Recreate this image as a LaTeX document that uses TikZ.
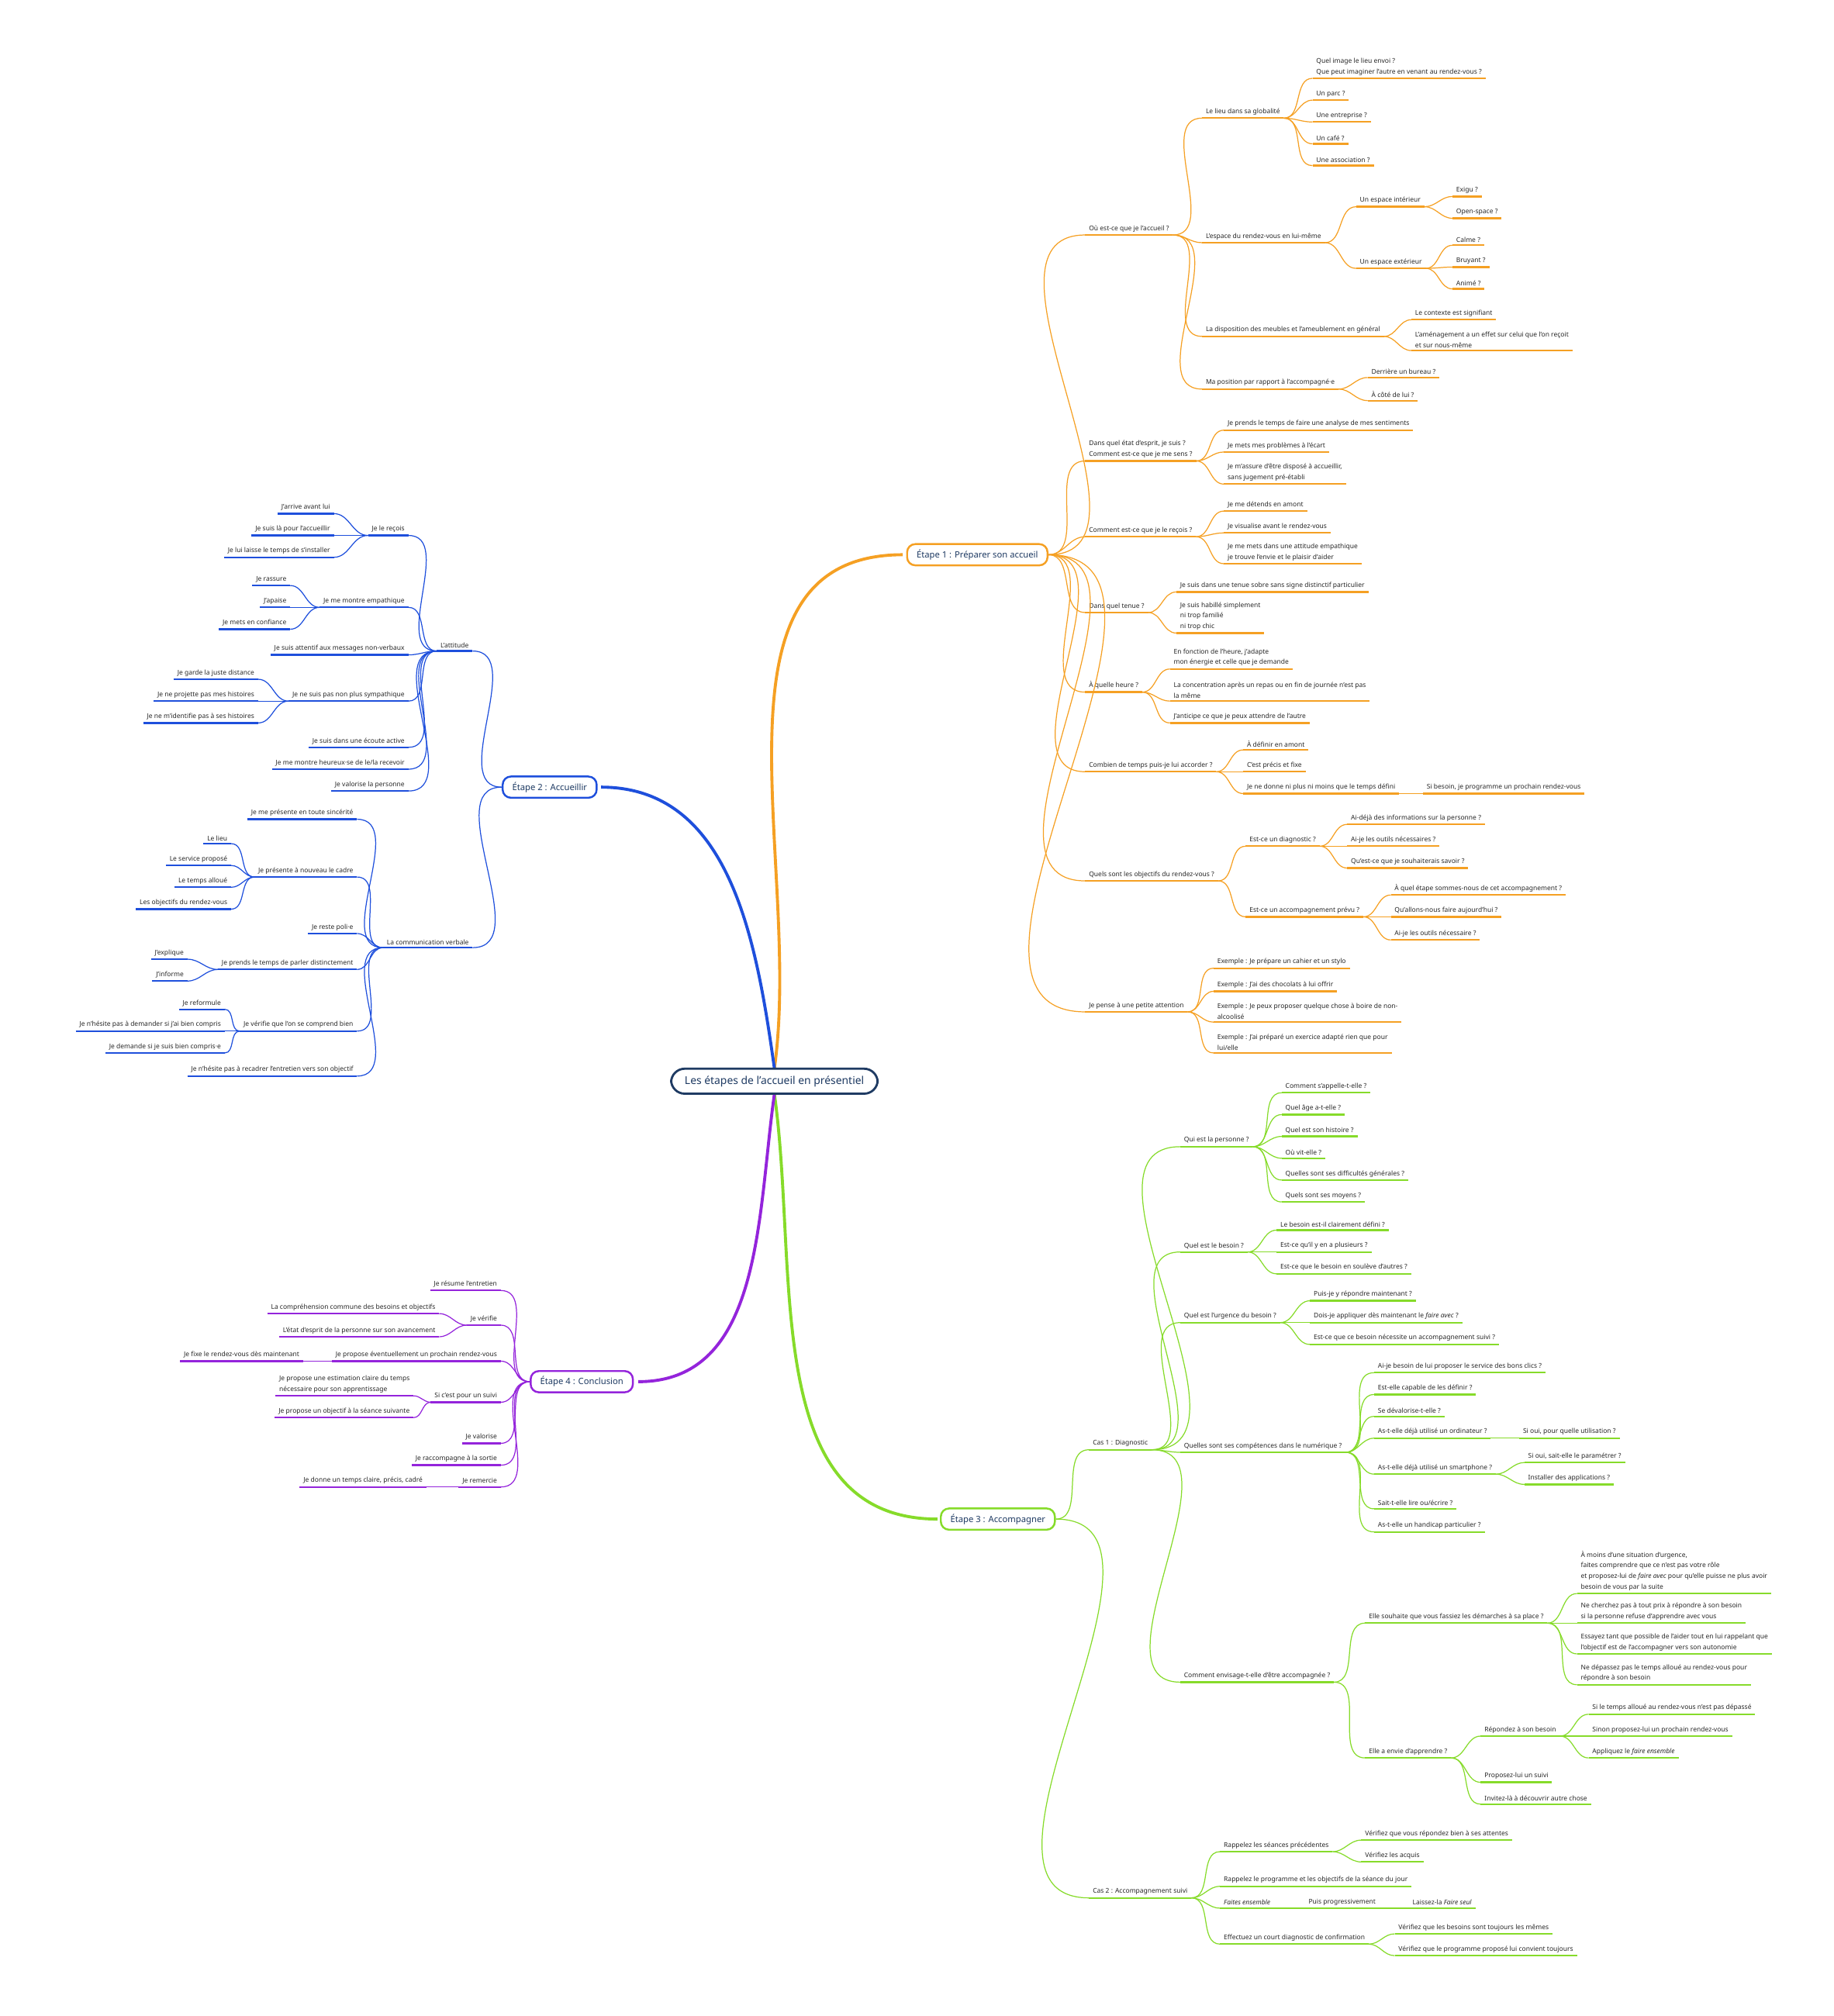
\documentclass[tikz,border=0pt]{standalone}
\usepackage{fontspec}
\setmainfont{Noto Sans}
\definecolor{ink}{HTML}{262626}
\definecolor{navy}{HTML}{1F3B63}
\definecolor{corange}{HTML}{F5A023}
\definecolor{cblue}{HTML}{1E4FDC}
\definecolor{cgreen}{HTML}{86DB2A}
\definecolor{cpurple}{HTML}{9424DB}
\tikzset{
  every node/.style={font=\fontsize{2.42}{3.9}\selectfont, text=ink},
  item/.style={inner xsep=1.2pt, inner ysep=0.9pt, align=left,
    append after command={(\tikzlastnode.south west) edge[line width=0.65pt] (\tikzlastnode.south east)}},
  ritem/.style={item, anchor=south west},
  litem/.style={item, anchor=south east},
  twig/.style={line width=0.35pt},
  branch/.style={line width=1.1pt},
  stage/.style={draw, rounded corners=3pt, line width=0.7pt, fill=white, text=navy,
    font=\bfseries\fontsize{3.2}{3.8}\selectfont, inner xsep=3.5pt, inner ysep=2pt},
}
\newcommand{\rlinks}[2]{\foreach \c in {#2} \draw[twig] (#1.south east) to[out=0,in=180] (\c.south west);}
\newcommand{\llinks}[2]{\foreach \c in {#2} \draw[twig] (#1.south west) to[out=180,in=0] (\c.south east);}
\begin{document}
\begin{tikzpicture}[x=0.16562mm, y=-0.16562mm]
\useasboundingbox (0,0) rectangle (1428,1570);

% centre et etapes
\draw[branch, corange] (603,832) to[out=82,in=180] (703,432);
\draw[branch, cblue] (603,832) to[out=98,in=0] (468,613);
\draw[branch, cgreen] (603,852) to[out=-82,in=180] (730,1183);
\draw[branch, cpurple] (603,852) to[out=-98,in=0] (497,1076);
\node[draw=navy, rounded corners=5pt, line width=0.8pt, fill=white, text=navy,
  font=\bfseries\fontsize{3.95}{4.6}\selectfont, inner xsep=5pt, inner ysep=2.6pt] (root) at (603,842) {Les étapes de l'accueil en présentiel};
\node[stage, draw=corange] (e1) at (761,432) {Étape 1 : Préparer son accueil};
\node[stage, draw=cblue] (e2) at (428,613) {Étape 2 : Accueillir};
\node[stage, draw=cgreen] (e3) at (777,1183) {Étape 3 : Accompagner};
\node[stage, draw=cpurple] (e4) at (453,1076) {Étape 4 : Conclusion};

% etape 1
\begin{scope}[color=corange]
\node[ritem] (e1a) at (845,183) {Où est-ce que je l'accueil ?};
\node[ritem] (e1a1) at (936,92) {Le lieu dans sa globalité};
\node[ritem] (e1a1a) at (1022,61) {Quel image le lieu envoi ?\\Que peut imaginer l'autre en venant au rendez-vous ?};
\node[ritem] (e1a1b) at (1022,78) {Un parc ?};
\node[ritem] (e1a1c) at (1022,95) {Une entreprise ?};
\node[ritem] (e1a1d) at (1022,112) {Un café ?};
\node[ritem] (e1a1e) at (1022,129) {Une association ?};
\node[ritem] (e1a2) at (936,189) {L'espace du rendez-vous en lui-même};
\node[ritem] (e1a2a) at (1056,161) {Un espace intérieur};
\node[ritem] (e1a2a1) at (1131,153) {Exigu ?};
\node[ritem] (e1a2a2) at (1131,170) {Open-space ?};
\node[ritem] (e1a2b) at (1056,209) {Un espace extérieur};
\node[ritem] (e1a2b1) at (1131,191) {Calme ?};
\node[ritem] (e1a2b2) at (1131,208) {Bruyant ?};
\node[ritem] (e1a2b3) at (1131,225) {Animé ?};
\node[ritem] (e1a3) at (936,262) {La disposition des meubles et l'ameublement en général};
\node[ritem] (e1a3a) at (1099,249) {Le contexte est signifiant};
\node[ritem] (e1a3b) at (1099,273) {L'aménagement a un effet sur celui que l'on reçoit\\et sur nous-même};
\node[ritem] (e1a4) at (936,303) {Ma position par rapport à l'accompagné·e};
\node[ritem] (e1a4a) at (1065,294) {Derrière un bureau ?};
\node[ritem] (e1a4b) at (1065,312) {À côté de lui ?};
\node[ritem] (e1b) at (845,359) {Dans quel état d'esprit, je suis ?\\Comment est-ce que je me sens ?};
\node[ritem] (e1b1) at (953,335) {Je prends le temps de faire une analyse de mes sentiments};
\node[ritem] (e1b2) at (953,352) {Je mets mes problèmes à l'écart};
\node[ritem] (e1b3) at (953,377) {Je m'assure d'être disposé à accueillir,\\sans jugement pré-établi};
\node[ritem] (e1c) at (845,418) {Comment est-ce que je le reçois ?};
\node[ritem] (e1c1) at (953,398) {Je me détends en amont};
\node[ritem] (e1c2) at (953,415) {Je visualise avant le rendez-vous};
\node[ritem] (e1c3) at (953,439) {Je me mets dans une attitude empathique\\je trouve l'envie et le plaisir d'aider};
\node[ritem] (e1d) at (845,477) {Dans quel tenue ?};
\node[ritem] (e1d1) at (916,461) {Je suis dans une tenue sobre sans signe distinctif particulier};
\node[ritem] (e1d2) at (916,493) {Je suis habillé simplement\\ni trop familié\\ni trop chic};
\node[ritem] (e1e) at (845,539) {À quelle heure ?};
\node[ritem] (e1e1) at (911,521) {En fonction de l'heure, j'adapte\\mon énergie et celle que je demande};
\node[ritem] (e1e2) at (911,546) {La concentration après un repas ou en fin de journée n'est pas\\la même};
\node[ritem] (e1e3) at (911,563) {J'anticipe ce que je peux attendre de l'autre};
\node[ritem] (e1f) at (845,601) {Combien de temps puis-je lui accorder ?};
\node[ritem] (e1f1) at (968,584) {À définir en amont};
\node[ritem] (e1f2) at (968,601) {C'est précis et fixe};
\node[ritem] (e1f3) at (968,618) {Je ne donne ni plus ni moins que le temps défini};
\node[ritem] (e1f3a) at (1108,618) {Si besoin, je programme un prochain rendez-vous};
\node[ritem] (e1g) at (845,686) {Quels sont les objectifs du rendez-vous ?};
\node[ritem] (e1g1) at (970,659) {Est-ce un diagnostic ?};
\node[ritem] (e1g1a) at (1049,642) {Ai-déjà des informations sur la personne ?};
\node[ritem] (e1g1b) at (1049,659) {Ai-je les outils nécessaires ?};
\node[ritem] (e1g1c) at (1049,676) {Qu'est-ce que je souhaiterais savoir ?};
\node[ritem] (e1g2) at (970,714) {Est-ce un accompagnement prévu ?};
\node[ritem] (e1g2a) at (1083,697) {À quel étape sommes-nous de cet accompagnement ?};
\node[ritem] (e1g2b) at (1083,714) {Qu'allons-nous faire aujourd'hui ?};
\node[ritem] (e1g2c) at (1083,732) {Ai-je les outils nécessaire ?};
\node[ritem] (e1h) at (845,788) {Je pense à une petite attention};
\node[ritem] (e1h1) at (945,754) {Exemple : Je prépare un cahier et un stylo};
\node[ritem] (e1h2) at (945,772) {Exemple : J'ai des chocolats à lui offrir};
\node[ritem] (e1h3) at (945,796) {Exemple : Je peux proposer quelque chose à boire de non-\\alcoolisé};
\node[ritem] (e1h4) at (945,820) {Exemple : J'ai préparé un exercice adapté rien que pour\\lui/elle};
\foreach \c in {e1a,e1b,e1c,e1d,e1e,e1f,e1g,e1h} \draw[twig] (e1.east) to[out=0,in=180] (\c.south west);
\rlinks{e1a}{e1a1,e1a2,e1a3,e1a4}
\rlinks{e1a1}{e1a1a,e1a1b,e1a1c,e1a1d,e1a1e}
\rlinks{e1a2}{e1a2a,e1a2b}
\rlinks{e1a2a}{e1a2a1,e1a2a2}
\rlinks{e1a2b}{e1a2b1,e1a2b2,e1a2b3}
\rlinks{e1a3}{e1a3a,e1a3b}
\rlinks{e1a4}{e1a4a,e1a4b}
\rlinks{e1b}{e1b1,e1b2,e1b3}
\rlinks{e1c}{e1c1,e1c2,e1c3}
\rlinks{e1d}{e1d1,e1d2}
\rlinks{e1e}{e1e1,e1e2,e1e3}
\rlinks{e1f}{e1f1,e1f2,e1f3}
\rlinks{e1f3}{e1f3a}
\rlinks{e1g}{e1g1,e1g2}
\rlinks{e1g1}{e1g1a,e1g1b,e1g1c}
\rlinks{e1g2}{e1g2a,e1g2b,e1g2c}
\rlinks{e1h}{e1h1,e1h2,e1h3,e1h4}
\end{scope}

% etape 2
\begin{scope}[color=cblue]
\node[litem] (e2a) at (368,507) {L'attitude};
\node[litem] (e2a1) at (318,417) {Je le reçois};
\node[litem] (e2a1a) at (260,400) {J'arrive avant lui};
\node[litem] (e2a1b) at (260,417) {Je suis là pour l'accueillir};
\node[litem] (e2a1c) at (260,434) {Je lui laisse le temps de s'installer};
\node[litem] (e2a2) at (318,473) {Je me montre empathique};
\node[litem] (e2a2a) at (226,456) {Je rassure};
\node[litem] (e2a2b) at (226,473) {J'apaise};
\node[litem] (e2a2c) at (226,490) {Je mets en confiance};
\node[litem] (e2a3) at (318,510) {Je suis attentif aux messages non-verbaux};
\node[litem] (e2a4) at (318,546) {Je ne suis pas non plus sympathique};
\node[litem] (e2a4a) at (201,529) {Je garde la juste distance};
\node[litem] (e2a4b) at (201,546) {Je ne projette pas mes histoires};
\node[litem] (e2a4c) at (201,563) {Je ne m'identifie pas à ses histoires};
\node[litem] (e2a5) at (318,582) {Je suis dans une écoute active};
\node[litem] (e2a6) at (318,599) {Je me montre heureux·se de le/la recevoir};
\node[litem] (e2a7) at (318,616) {Je valorise la personne};
\node[litem] (e2b) at (368,738) {La communication verbale};
\node[litem] (e2b1) at (278,638) {Je me présente en toute sincérité};
\node[litem] (e2b2) at (278,683) {Je présente à nouveau le cadre};
\node[litem] (e2b2a) at (180,657) {Le lieu};
\node[litem] (e2b2b) at (180,674) {Le service proposé};
\node[litem] (e2b2c) at (180,691) {Le temps alloué};
\node[litem] (e2b2d) at (180,708) {Les objectifs du rendez-vous};
\node[litem] (e2b3) at (278,727) {Je reste poli·e};
\node[litem] (e2b4) at (278,755) {Je prends le temps de parler distinctement};
\node[litem] (e2b4a) at (146,747) {J'explique};
\node[litem] (e2b4b) at (146,764) {J'informe};
\node[litem] (e2b5) at (278,803) {Je vérifie que l'on se comprend bien};
\node[litem] (e2b5a) at (175,786) {Je reformule};
\node[litem] (e2b5b) at (175,803) {Je n'hésite pas à demander si j'ai bien compris};
\node[litem] (e2b5c) at (175,820) {Je demande si je suis bien compris·e};
\node[litem] (e2b6) at (278,838) {Je n'hésite pas à recadrer l'entretien vers son objectif};
\foreach \c in {e2a,e2b} \draw[twig] (e2.west) to[out=180,in=0] (\c.south east);
\llinks{e2a}{e2a1,e2a2,e2a3,e2a4,e2a5,e2a6,e2a7}
\llinks{e2a1}{e2a1a,e2a1b,e2a1c}
\llinks{e2a2}{e2a2a,e2a2b,e2a2c}
\llinks{e2a4}{e2a4a,e2a4b,e2a4c}
\llinks{e2b}{e2b1,e2b2,e2b3,e2b4,e2b5,e2b6}
\llinks{e2b2}{e2b2a,e2b2b,e2b2c,e2b2d}
\llinks{e2b4}{e2b4a,e2b4b}
\llinks{e2b5}{e2b5a,e2b5b,e2b5c}
\end{scope}

% etape 3
\begin{scope}[color=cgreen]
\node[ritem] (e3a) at (848,1129) {Cas 1 : Diagnostic};
\node[ritem] (e3a1) at (919,893) {Qui est la personne ?};
\node[ritem] (e3a1a) at (998,851) {Comment s'appelle-t-elle ?};
\node[ritem] (e3a1b) at (998,868) {Quel âge a-t-elle ?};
\node[ritem] (e3a1c) at (998,885) {Quel est son histoire ?};
\node[ritem] (e3a1d) at (998,902) {Où vit-elle ?};
\node[ritem] (e3a1e) at (998,919) {Quelles sont ses difficultés générales ?};
\node[ritem] (e3a1f) at (998,936) {Quels sont ses moyens ?};
\node[ritem] (e3a2) at (919,975) {Quel est le besoin ?};
\node[ritem] (e3a2a) at (994,958) {Le besoin est-il clairement défini ?};
\node[ritem] (e3a2b) at (994,975) {Est-ce qu'il y en a plusieurs ?};
\node[ritem] (e3a2c) at (994,992) {Est-ce que le besoin en soulève d'autres ?};
\node[ritem] (e3a3) at (919,1030) {Quel est l'urgence du besoin ?};
\node[ritem] (e3a3a) at (1020,1013) {Puis-je y répondre maintenant ?};
\node[ritem] (e3a3b) at (1020,1030) {Dois-je appliquer dès maintenant le \emph{faire avec} ?};
\node[ritem] (e3a3c) at (1020,1047) {Est-ce que ce besoin nécessite un accompagnement suivi ?};
\node[ritem] (e3a4) at (919,1131) {Quelles sont ses compétences dans le numérique ?};
\node[ritem] (e3a4a) at (1070,1069) {Ai-je besoin de lui proposer le service des bons clics ?};
\node[ritem] (e3a4b) at (1070,1086) {Est-elle capable de les définir ?};
\node[ritem] (e3a4c) at (1070,1103) {Se dévalorise-t-elle ?};
\node[ritem] (e3a4d) at (1070,1120) {As-t-elle déjà utilisé un ordinateur ?};
\node[ritem] (e3a4d1) at (1183,1120) {Si oui, pour quelle utilisation ?};
\node[ritem] (e3a4e) at (1070,1148) {As-t-elle déjà utilisé un smartphone ?};
\node[ritem] (e3a4e1) at (1187,1139) {Si oui, sait-elle le paramétrer ?};
\node[ritem] (e3a4e2) at (1187,1156) {Installer des applications ?};
\node[ritem] (e3a4f) at (1070,1175) {Sait-t-elle lire ou/écrire ?};
\node[ritem] (e3a4g) at (1070,1193) {As-t-elle un handicap particulier ?};
\node[ritem] (e3a5) at (919,1310) {Comment envisage-t-elle d'être accompagnée ?};
\node[ritem] (e3a5a) at (1063,1264) {Elle souhaite que vous fassiez les démarches à sa place ?};
\node[ritem] (e3a5a1) at (1228,1241) {À moins d'une situation d'urgence,\\faites comprendre que ce n'est pas votre rôle\\et proposez-lui de \emph{faire avec} pour qu'elle puisse ne plus avoir\\besoin de vous par la suite};
\node[ritem] (e3a5a2) at (1228,1264) {Ne cherchez pas à tout prix à répondre à son besoin\\si la personne refuse d'apprendre avec vous};
\node[ritem] (e3a5a3) at (1228,1288) {Essayez tant que possible de l'aider tout en lui rappelant que\\l'objectif est de l'accompagner vers son autonomie};
\node[ritem] (e3a5a4) at (1228,1312) {Ne dépassez pas le temps alloué au rendez-vous pour\\répondre à son besoin};
\node[ritem] (e3a5b) at (1063,1369) {Elle a envie d'apprendre ?};
\node[ritem] (e3a5b1) at (1153,1352) {Répondez à son besoin};
\node[ritem] (e3a5b1a) at (1237,1335) {Si le temps alloué au rendez-vous n'est pas dépassé};
\node[ritem] (e3a5b1b) at (1237,1352) {Sinon proposez-lui un prochain rendez-vous};
\node[ritem] (e3a5b1c) at (1237,1369) {Appliquez le \emph{faire ensemble}};
\node[ritem] (e3a5b2) at (1153,1388) {Proposez-lui un suivi};
\node[ritem] (e3a5b3) at (1153,1405) {Invitez-là à découvrir autre chose};
\node[ritem] (e3b) at (848,1478) {Cas 2 : Accompagnement suivi};
\node[ritem] (e3b1) at (950,1442) {Rappelez les séances précédentes};
\node[ritem] (e3b1a) at (1060,1433) {Vérifiez que vous répondez bien à ses attentes};
\node[ritem] (e3b1b) at (1060,1450) {Vérifiez les acquis};
\node[ritem] (e3b2) at (950,1469) {Rappelez le programme et les objectifs de la séance du jour};
\node[ritem] (e3b3) at (950,1486) {\emph{Faites ensemble}};
\node[ritem] (e3b3a) at (1016,1486) {Puis progressivement};
\node[ritem] (e3b3b) at (1097,1486) {Laissez-la \emph{Faire seul}};
\node[ritem] (e3b4) at (950,1514) {Effectuez un court diagnostic de confirmation};
\node[ritem] (e3b4a) at (1086,1506) {Vérifiez que les besoins sont toujours les mêmes};
\node[ritem] (e3b4b) at (1086,1523) {Vérifiez que le programme proposé lui convient toujours};
\foreach \c in {e3a,e3b} \draw[twig] (e3.east) to[out=0,in=180] (\c.south west);
\rlinks{e3a}{e3a1,e3a2,e3a3,e3a4,e3a5}
\rlinks{e3a1}{e3a1a,e3a1b,e3a1c,e3a1d,e3a1e,e3a1f}
\rlinks{e3a2}{e3a2a,e3a2b,e3a2c}
\rlinks{e3a3}{e3a3a,e3a3b,e3a3c}
\rlinks{e3a4}{e3a4a,e3a4b,e3a4c,e3a4d,e3a4e,e3a4f,e3a4g}
\rlinks{e3a4d}{e3a4d1}
\rlinks{e3a4e}{e3a4e1,e3a4e2}
\rlinks{e3a5}{e3a5a,e3a5b}
\rlinks{e3a5a}{e3a5a1,e3a5a2,e3a5a3,e3a5a4}
\rlinks{e3a5b}{e3a5b1,e3a5b2,e3a5b3}
\rlinks{e3a5b1}{e3a5b1a,e3a5b1b,e3a5b1c}
\rlinks{e3b}{e3b1,e3b2,e3b3,e3b4}
\rlinks{e3b1}{e3b1a,e3b1b}
\rlinks{e3b3}{e3b3a}
\rlinks{e3b3a}{e3b3b}
\rlinks{e3b4}{e3b4a,e3b4b}
\end{scope}

% etape 4
\begin{scope}[color=cpurple]
\node[litem] (e4a) at (390,1005) {Je résume l'entretien};
\node[litem] (e4b) at (390,1032) {Je vérifie};
\node[litem] (e4b1) at (342,1023) {La compréhension commune des besoins et objectifs};
\node[litem] (e4b2) at (342,1041) {L'état d'esprit de la personne sur son avancement};
\node[litem] (e4c) at (390,1060) {Je propose éventuellement un prochain rendez-vous};
\node[litem] (e4c1) at (236,1060) {Je fixe le rendez-vous dès maintenant};
\node[litem] (e4d) at (390,1092) {Si c'est pour un suivi};
\node[litem] (e4d1) at (322,1087) {Je propose une estimation claire du temps\\nécessaire pour son apprentissage};
\node[litem] (e4d2) at (322,1104) {Je propose un objectif à la séance suivante};
\node[litem] (e4e) at (390,1124) {Je valorise};
\node[litem] (e4f) at (390,1141) {Je raccompagne à la sortie};
\node[litem] (e4g) at (390,1158) {Je remercie};
\node[litem] (e4g1) at (332,1158) {Je donne un temps claire, précis, cadré};
\foreach \c in {e4a,e4b,e4c,e4d,e4e,e4f,e4g} \draw[twig] (e4.west) to[out=180,in=0] (\c.south east);
\llinks{e4b}{e4b1,e4b2}
\llinks{e4c}{e4c1}
\llinks{e4d}{e4d1,e4d2}
\llinks{e4g}{e4g1}
\end{scope}
\end{tikzpicture}
\end{document}
